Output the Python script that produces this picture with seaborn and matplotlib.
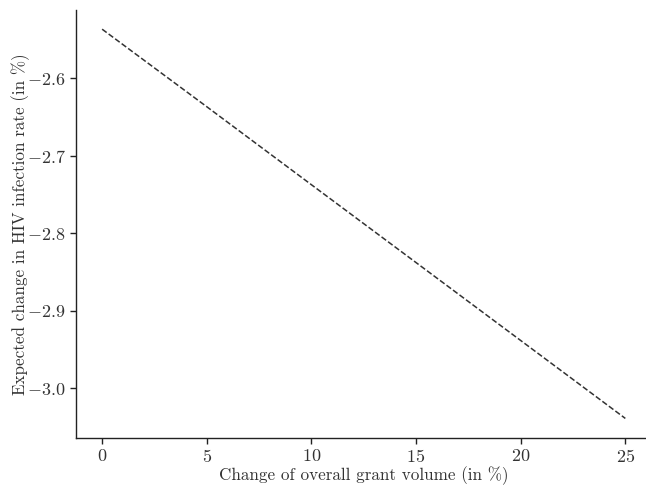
import matplotlib
matplotlib.use("Agg")
import matplotlib.pyplot as plt
import seaborn as sns
import pandas as pd

grant_change = [0, 5, 10, 15, 20, 25]
hiv_change = [-2.537, -2.637, -2.7376, -2.838, -2.9385, -3.039]

sns.set_theme(style="ticks")
plt.rcParams["font.family"] = ["cmr10", "DejaVu Serif"]
plt.rcParams["mathtext.fontset"] = "cm"
plt.rcParams["axes.formatter.use_mathtext"] = True
plt.rcParams["axes.unicode_minus"] = True

df = pd.DataFrame({"x": grant_change, "y": hiv_change})

fig, ax = plt.subplots(figsize=(6.46, 4.86), dpi=100)
sns.lineplot(data=df, x="x", y="y", ax=ax, color="#333333", linestyle="--", linewidth=1.1)
ax.set_xticks([0, 5, 10, 15, 20, 25])
ax.set_yticks([-2.6, -2.7, -2.8, -2.9, -3.0])
ax.set_xlabel("Change of overall grant volume (in %)", fontsize=12.3, color="#333333", labelpad=1)
ax.set_ylabel("Expected change in HIV infection rate (in %)", fontsize=12.3, color="#333333", labelpad=-2)
ax.tick_params(labelsize=13, colors="#222222", length=4, width=1, pad=3.5)
ax.tick_params(axis="x", labelcolor="#333333")
ax.tick_params(axis="y", labelcolor="#333333")
for s in ["left", "bottom"]:
    ax.spines[s].set_color("#222222")
    ax.spines[s].set_linewidth(1.0)
sns.despine(ax=ax)
fig.subplots_adjust(left=0.1176, right=1.0085, top=0.98, bottom=0.099)
fig.savefig("out.png", dpi=100)
